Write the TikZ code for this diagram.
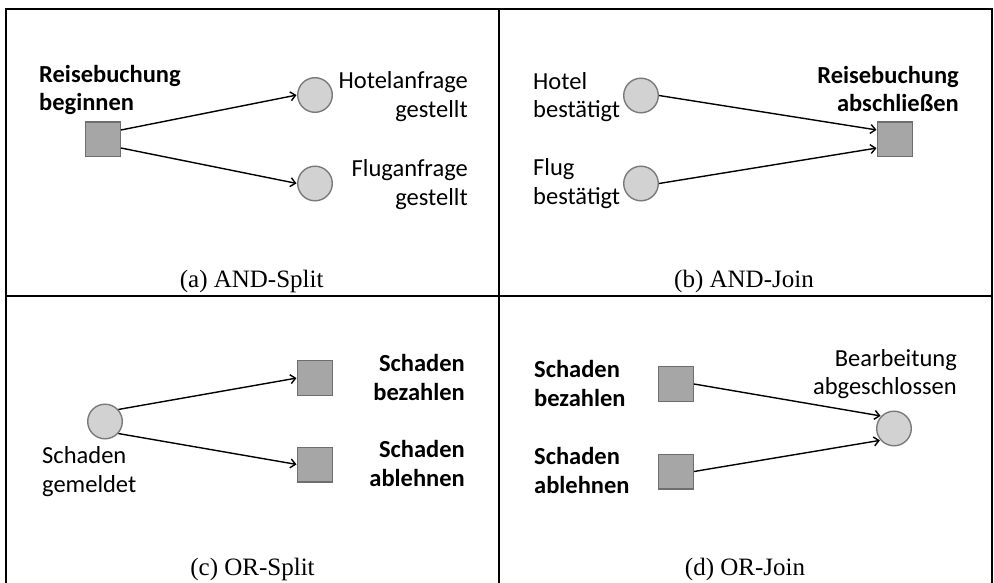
\documentclass[tikz,border=0pt]{standalone}
\usepackage{fontspec}
\setmainfont{Carlito}
\newfontfamily\capfont{Liberation Serif}
\usetikzlibrary{arrows.meta}
\definecolor{sqfill}{HTML}{A6A6A6}
\definecolor{sqdraw}{HTML}{6E6E6E}
\definecolor{cfill}{HTML}{D2D2D2}
\definecolor{cdraw}{HTML}{7A7A7A}
\tikzset{
  frame/.style={line width=2pt, line cap=rect},
  task/.style={rectangle, fill=sqfill, draw=sqdraw, line width=1.4pt, minimum size=34.6pt, inner sep=0pt},
  evt/.style={circle, fill=cfill, draw=cdraw, line width=1.4pt, minimum size=34.6pt, inner sep=0pt},
  lbl/.style={font=\fontsize{24.5}{28.5}\selectfont, inner sep=0pt},
  blbl/.style={lbl, font=\fontsize{24.5}{28.5}\selectfont\bfseries},
  subcap/.style={font=\capfont\fontsize{25}{30}\selectfont, inner sep=0pt, anchor=base},
  flow/.style={line width=1.4pt, -{Straight Barb[length=5pt,width=9pt,line width=1.4pt]}, shorten >=0.5pt}
}
\begin{document}
\begin{tikzpicture}[x=1pt, y=-1pt]
\useasboundingbox (0,0) rectangle (994,583);
% frame
\coordinate (tl) at (6,9);
\coordinate (tr) at (991.5,9);
\coordinate (bl) at (6,583);
\coordinate (br) at (991.5,583);
\coordinate (tm) at (499,9);
\coordinate (bm) at (499,583);
\coordinate (ml) at (6,296);
\coordinate (mr) at (991.5,296);
\draw[frame] (bl) -- (tl) -- (tr) -- (br);
\draw[frame] (tm) -- (bm);
\draw[frame] (ml) -- (mr);

% (a) AND-Split  (text anchors: baseline of last line)
\node[task] (sqA) at (103,139.5) {};
\node[evt] (cA1) at (315,95) {};
\node[evt] (cA2) at (315,183.5) {};
\node[blbl, align=left, anchor=base west] (tA0) at (39,111) {Reisebuchung\\beginnen};
\node[lbl, align=right, anchor=base east] (tA1) at (468,117.3) {Hotelanfrage\\gestellt};
\node[lbl, align=right, anchor=base east] (tA2) at (468,205) {Fluganfrage\\gestellt};
\draw[flow] ([yshift=9.5pt]sqA.east) -- (cA1.west);
\draw[flow] ([yshift=-8.5pt]sqA.east) -- (cA2.west);
\node[subcap] (capA) at (251.7,287) {(a) AND-Split};

% (b) AND-Join
\node[evt] (cB1) at (641,95.5) {};
\node[evt] (cB2) at (641,183.5) {};
\node[task] (sqB) at (895,139.5) {};
\node[lbl, align=left, anchor=base west] (tB1) at (533,118) {Hotel\\bestätigt};
\node[lbl, align=left, anchor=base west] (tB2) at (533,204.5) {Flug\\bestätigt};
\node[blbl, align=right, anchor=base east] (tB0) at (959,112) {Reisebuchung\\abschließen};
\draw[flow] (cB1.east) -- ([yshift=9.5pt]sqB.west);
\draw[flow] (cB2.east) -- ([yshift=-8.5pt]sqB.west);
\node[subcap] (capB) at (744,287) {(b) AND-Join};

% (c) OR-Split
\node[evt] (cC) at (105,421.5) {};
\node[task] (sqC1) at (315,378) {};
\node[task] (sqC2) at (315,464.5) {};
\node[lbl, align=left, anchor=base west] (tC0) at (42,492.3) {Schaden\\gemeldet};
\node[blbl, align=right, anchor=base east] (tC1) at (465,400.3) {Schaden\\bezahlen};
\node[blbl, align=right, anchor=base east] (tC2) at (465,486.3) {Schaden\\ablehnen};
\draw[flow] (cC.42) -- (sqC1.west);
\draw[flow] (cC.-42) -- (sqC2.west);
\node[subcap] (capC) at (252.5,575) {(c) OR-Split};

% (d) OR-Join
\node[task] (sqD1) at (676,384) {};
\node[task] (sqD2) at (676,471.5) {};
\node[evt] (cD) at (894,428.5) {};
\node[blbl, align=left, anchor=base west] (tD1) at (534,406) {Schaden\\bezahlen};
\node[blbl, align=left, anchor=base west] (tD2) at (534,493) {Schaden\\ablehnen};
\node[lbl, align=right, anchor=base east] (tD0) at (957,394.7) {Bearbeitung\\abgeschlossen};
\draw[flow] (sqD1.east) -- (cD.136);
\draw[flow] (sqD2.east) -- (cD.221);
\node[subcap] (capD) at (745,575) {(d) OR-Join};
\end{tikzpicture}
\end{document}
